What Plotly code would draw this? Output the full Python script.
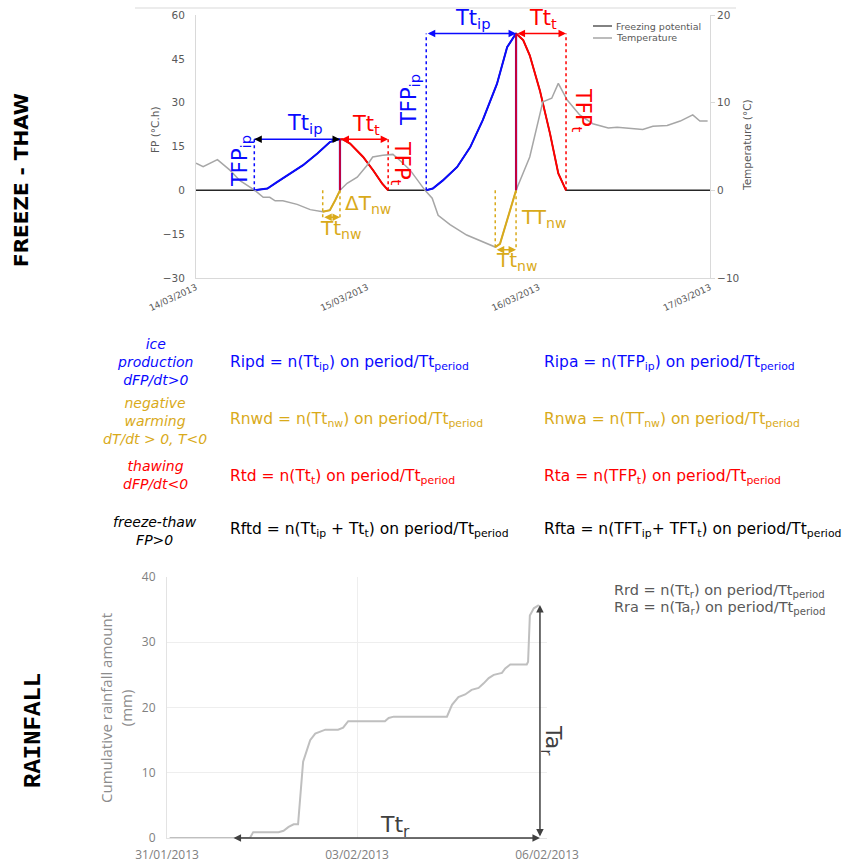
import plotly.graph_objects as go

W, H = 848, 868

# ---------------- Top chart data (freeze-thaw) ----------------
temp_t = ["2013-03-14 00:00", "2013-03-14 01:00", "2013-03-14 03:00", "2013-03-14 04:45", "2013-03-14 06:10",
          "2013-03-14 07:35", "2013-03-14 08:15", "2013-03-14 09:25", "2013-03-14 10:20", "2013-03-14 11:05",
          "2013-03-14 12:10", "2013-03-14 14:10", "2013-03-14 16:00", "2013-03-14 17:45", "2013-03-14 18:45",
          "2013-03-14 19:30", "2013-03-14 20:10", "2013-03-14 21:10", "2013-03-14 22:35", "2013-03-14 23:55",
          "2013-03-15 00:45", "2013-03-15 02:10", "2013-03-15 03:35", "2013-03-15 04:35", "2013-03-15 06:00",
          "2013-03-15 08:05", "2013-03-15 09:05", "2013-03-15 09:55", "2013-03-15 11:35", "2013-03-15 13:55",
          "2013-03-15 16:55", "2013-03-15 17:55", "2013-03-15 18:35", "2013-03-15 20:50", "2013-03-15 22:45",
          "2013-03-16 00:35", "2013-03-16 01:50", "2013-03-16 02:45", "2013-03-16 04:00", "2013-03-16 05:45",
          "2013-03-16 07:35", "2013-03-16 09:45", "2013-03-16 11:00", "2013-03-16 14:35", "2013-03-16 16:00",
          "2013-03-16 18:00", "2013-03-16 19:50", "2013-03-16 21:35", "2013-03-16 22:35", "2013-03-16 23:40"]
temp_v = [3.1, 2.7, 3.5, 2.3, 1.1, 0.3, 0.0, -0.8, -0.8, -1.2,
          -1.2, -1.6, -2.2, -2.45, -2.27, -1.13, 0.0, 0.8, 1.5, 2.8,
          3.8, 4.0, 4.1, 3.4, 2.3, 0.0, -0.9, -2.85, -3.9, -5.1,
          -6.1, -6.47, -6.1, 0.0, 3.8, 10.1, 10.5, 12.2, 10.3, 8.6,
          7.6, 7.1, 7.2, 6.95, 7.3, 7.4, 7.9, 8.6, 7.9, 7.9]

# ice production (dFP/dt > 0)
ip1_t = ["2013-03-14 08:10", "2013-03-14 10:00", "2013-03-14 11:20", "2013-03-14 13:10", "2013-03-14 15:00",
         "2013-03-14 17:00", "2013-03-14 18:45", "2013-03-14 19:45", "2013-03-14 20:10"]
ip1_v = [0, 0.6, 2.8, 5.7, 8.6, 12.6, 16.5, 17.3, 17.5]
ip2_t = ["2013-03-15 08:15", "2013-03-15 09:10", "2013-03-15 10:35", "2013-03-15 12:35", "2013-03-15 14:25",
         "2013-03-15 16:10", "2013-03-15 18:10", "2013-03-15 19:35", "2013-03-15 20:50"]
ip2_v = [0, 0.6, 3.4, 8.0, 14.8, 24.0, 36.5, 49.0, 53.7]

# thawing (dFP/dt < 0)
th1_t = ["2013-03-14 20:10", "2013-03-14 20:30", "2013-03-14 21:35", "2013-03-14 23:25", "2013-03-15 00:50",
         "2013-03-15 02:05", "2013-03-15 02:55"]
th1_v = [17.5, 17.5, 16.0, 11.4, 6.8, 2.3, 0]
th2_t = ["2013-03-15 20:50", "2013-03-15 21:50", "2013-03-15 22:45", "2013-03-16 00:10", "2013-03-16 01:35",
         "2013-03-16 02:45", "2013-03-16 03:50"]
th2_v = [53.7, 51.4, 46.2, 34.2, 19.5, 5.8, 0]

# negative warming (dT/dt > 0, T < 0), temperature in degC
nw1_t = ["2013-03-14 17:45", "2013-03-14 18:45", "2013-03-14 19:30", "2013-03-14 20:10"]
nw1_v = [-2.45, -2.27, -1.13, 0.0]
nw2_t = ["2013-03-15 17:55", "2013-03-15 18:35", "2013-03-15 20:50"]
nw2_v = [-6.47, -6.1, 0.0]
nw_arrow_level = [-3.07, -6.77]

fp_start, fp_end = "2013-03-14 00:00", "2013-03-17 00:00"

# ---------------- Bottom chart data (rainfall) ----------------
rain_t = ["2013-01-31 01:00", "2013-02-01 07:25", "2013-02-01 08:40", "2013-02-01 18:15", "2013-02-01 20:10",
          "2013-02-01 22:05", "2013-02-02 00:00", "2013-02-02 01:40", "2013-02-02 03:35", "2013-02-02 06:15",
          "2013-02-02 08:10", "2013-02-02 10:05", "2013-02-02 12:00", "2013-02-02 16:50", "2013-02-02 18:45",
          "2013-02-02 20:40", "2013-02-03 10:35", "2013-02-03 12:00", "2013-02-03 13:55", "2013-02-04 10:05",
          "2013-02-04 12:00", "2013-02-04 14:25", "2013-02-04 17:00", "2013-02-04 19:25", "2013-02-04 22:05",
          "2013-02-05 00:00", "2013-02-05 01:55", "2013-02-05 03:50", "2013-02-05 06:55", "2013-02-05 08:10",
          "2013-02-05 10:05", "2013-02-05 16:20", "2013-02-05 16:50", "2013-02-05 17:30", "2013-02-05 19:00",
          "2013-02-05 20:55"]
rain_v = [0, 0, 0.9, 0.9, 1.1, 1.7, 2.1, 2.1, 11.7, 15.0,
          16.0, 16.3, 16.6, 16.6, 16.9, 17.9, 17.9, 18.4, 18.6, 18.6,
          20.4, 21.6, 22.0, 22.7, 23.0, 23.7, 24.5, 25.0, 25.3, 26.0,
          26.6, 26.6, 27.0, 34.1, 35.2, 35.7]
rain_period = ["2013-02-01 00:40", "2013-02-05 21:20"]

BLUE = "#0a0aff"
RED = "#ff0000"
GOLD = "#d9aa1a"
FONT = "DejaVu Sans"


def px(x):
    return x / W


def py(y):
    return 1 - y / H


fig = go.Figure()

# temperature (secondary axis)
fig.add_trace(go.Scatter(x=temp_t, y=temp_v, mode="lines", name="Temperature",
                         line=dict(color="#a6a6a6", width=1.5), xaxis="x", yaxis="y2", showlegend=False))
# freezing potential full series
fp_t = [fp_start] + ip1_t + th1_t[1:] + ip2_t + th2_t[1:] + [fp_end]
fp_v = [0] + ip1_v + th1_v[1:] + ip2_v + th2_v[1:] + [0]
fig.add_trace(go.Scatter(x=fp_t, y=fp_v, mode="lines", name="Freezing potential",
                         line=dict(color="#262626", width=1.5), xaxis="x", yaxis="y", showlegend=False))
for tt, vv, col in [(ip1_t, ip1_v, BLUE), (th1_t, th1_v, RED), (ip2_t, ip2_v, BLUE), (th2_t, th2_v, RED)]:
    fig.add_trace(go.Scatter(x=tt, y=vv, mode="lines", line=dict(color=col, width=2),
                             xaxis="x", yaxis="y", showlegend=False))
for tt, vv in [(nw1_t, nw1_v), (nw2_t, nw2_v)]:
    fig.add_trace(go.Scatter(x=tt, y=vv, mode="lines", line=dict(color=GOLD, width=2),
                             xaxis="x", yaxis="y2", showlegend=False))

# rainfall
fig.add_trace(go.Scatter(x=rain_t, y=rain_v, mode="lines", line=dict(color="#bfbfbf", width=2),
                         xaxis="x3", yaxis="y3", showlegend=False))

shapes = []
annotations = []


def vline(x, y0, y1, color, dash, yref="y", width=1.5):
    shapes.append(dict(type="line", xref="x", yref=yref, x0=x, x1=x, y0=y0, y1=y1,
                       line=dict(color=color, width=width, dash=dash)))


def darrow(x0, x1, y, color, xref="x", yref="y", width=1.5):
    annotations.append(dict(x=x1, y=y, ax=x0, ay=y, xref=xref, yref=yref, axref=xref, ayref=yref,
                            text="", showarrow=True, arrowhead=2, startarrowhead=2, arrowside="end+start",
                            arrowsize=1, arrowwidth=width, arrowcolor=color))


def label(x, y, text, color, size=21, angle=0, xanchor="center", family=FONT):
    annotations.append(dict(x=px(x), y=py(y), xref="paper", yref="paper", text=text, showarrow=False,
                            textangle=angle, xanchor=xanchor, yanchor="middle",
                            font=dict(family=family, size=size, color=color)))


# event guides
for ip_t, ip_v, th_t, nw_t, lvl in [(ip1_t, ip1_v, th1_t, nw1_t, nw_arrow_level[0]),
                                    (ip2_t, ip2_v, th2_t, nw2_t, nw_arrow_level[1])]:
    peak = ip_v[-1]
    vline(ip_t[0], 0, peak, BLUE, "dot")
    vline(th_t[-1], 0, peak, RED, "dot")
    vline(ip_t[-1], 0, peak, BLUE, "solid", width=2.2)
    vline(ip_t[-1], 0, peak, RED, "solid", width=1.5)
    vline(nw_t[0], 0, lvl, GOLD, "dot", yref="y2")
    vline(nw_t[-1], 0, lvl, GOLD, "dot", yref="y2")
    darrow(th_t[0], th_t[-1], peak, RED)
    darrow(nw_t[0], nw_t[-1], lvl, GOLD, yref="y2")

# first ice-production arrow: blue shaft, black heads
shapes.append(dict(type="line", xref="x", yref="y", x0=ip1_t[0], x1=ip1_t[-1], y0=ip1_v[-1], y1=ip1_v[-1],
                   line=dict(color=BLUE, width=1.5)))
for xh, axp in [(ip1_t[0], 7), (ip1_t[-1], -7)]:
    annotations.append(dict(x=xh, y=ip1_v[-1], xref="x", yref="y", ax=axp, ay=0, text="", showarrow=True,
                            arrowhead=2, arrowsize=1, arrowwidth=1.5, arrowcolor="#000000"))
darrow(ip2_t[0], ip2_t[-1], ip2_v[-1], BLUE)

# rainfall arrows
darrow(rain_period[0], rain_period[1], 0, "#404040", xref="x3", yref="y3")
annotations.append(dict(x=rain_period[1], y=rain_v[-1], ax=rain_period[1], ay=0, xref="x3", yref="y3",
                        axref="x3", ayref="y3", text="", showarrow=True, arrowhead=2, startarrowhead=2,
                        arrowside="end+start", arrowsize=1, arrowwidth=1.5, arrowcolor="#404040"))

# top chart text labels
label(241, 161, "TFP<sub>ip</sub>", BLUE, angle=-90)
label(304, 124, "Tt<sub>ip</sub>", BLUE)
label(366, 125, "Tt<sub>t</sub>", RED)
label(401, 163, "TFP<sub>t</sub>", RED, angle=90)
label(343, 204, "ΔT<sub>nw</sub>", GOLD, size=20, xanchor="left")
label(340, 229, "Tt<sub>nw</sub>", GOLD, size=20)
label(410, 100, "TFP<sub>ip</sub>", BLUE, angle=-90)
label(473, 19, "Tt<sub>ip</sub>", BLUE)
label(543, 19, "Tt<sub>t</sub>", RED)
label(582, 110, "TFP<sub>t</sub>", RED, angle=90)
label(543, 218, "TT<sub>nw</sub>", GOLD, size=20)
label(516, 261, "Tt<sub>nw</sub>", GOLD, size=20)

# axis titles top
label(155, 130, "FP (°C.h)", "#595959", size=10.5, angle=-90)
label(747, 145, "Temperature (°C)", "#595959", size=10.5, angle=-90)

# manual legend
for yy, col, txt in [(26, "#595959", "Freezing potential"), (38, "#a6a6a6", "Temperature")]:
    shapes.append(dict(type="line", xref="paper", yref="paper", x0=px(593), x1=px(612), y0=py(yy), y1=py(yy),
                       line=dict(color=col, width=1.5)))
    label(614, yy, txt, "#595959", size=9.5, xanchor="left")

# chart area top border
shapes.append(dict(type="line", xref="paper", yref="paper", x0=px(135), x1=px(736), y0=py(8), y1=py(8),
                   line=dict(color="#d9d9d9", width=1)))

# section labels
label(21, 180, "<b>FREEZE - THAW</b>", "#000000", size=20, angle=-90)
label(33, 731, "<b>RAINFALL</b>", "#000000", size=24, angle=-90, family="Liberation Mono")

# middle legend (left column)
label(155, 362, "<i>ice<br>production<br>dFP/dt&gt;0</i>", BLUE, size=14)
label(155, 421, "<i>negative<br>warming<br>dT/dt &gt; 0, T&lt;0</i>", GOLD, size=14)
label(155, 475, "<i>thawing<br>dFP/dt&lt;0</i>", RED, size=14)
label(155, 531, "<i>freeze-thaw<br>FP&gt;0</i>", "#000000", size=14)

# formulas
P = "on period/Tt<sub>period</sub>"
label(228, 363, "Ripd = n(Tt<sub>ip</sub>) " + P, BLUE, size=15.5, xanchor="left")
label(228, 420, "Rnwd = n(Tt<sub>nw</sub>) " + P, GOLD, size=15.5, xanchor="left")
label(228, 477, "Rtd = n(Tt<sub>t</sub>) " + P, RED, size=15.5, xanchor="left")
label(228, 530, "Rftd = n(Tt<sub>ip</sub> + Tt<sub>t</sub>) " + P, "#000000", size=15.5, xanchor="left")
label(542, 363, "Ripa = n(TFP<sub>ip</sub>) " + P, BLUE, size=15.5, xanchor="left")
label(542, 420, "Rnwa = n(TT<sub>nw</sub>) " + P, GOLD, size=15.5, xanchor="left")
label(542, 477, "Rta = n(TFP<sub>t</sub>) " + P, RED, size=15.5, xanchor="left")
label(542, 530, "Rfta = n(TFT<sub>ip</sub>+ TFT<sub>t</sub>) " + P, "#000000", size=15.5, xanchor="left")

# rainfall labels
label(612, 591, "Rrd = n(Tt<sub>r</sub>) " + P, "#595959", size=14.5, xanchor="left")
label(612, 608, "Rra = n(Ta<sub>r</sub>) " + P, "#595959", size=14.5, xanchor="left")
label(395, 826, "Tt<sub>r</sub>", "#404040", size=22)
label(552, 740, "Ta<sub>r</sub>", "#404040", size=22, angle=90)
label(116, 708, "Cumulative rainfall amount<br>(mm)", "#8c8c8c", size=15, angle=-90, family="Open Sans")

fig.update_layout(
    width=W, height=H, margin=dict(l=0, r=0, t=0, b=0, autoexpand=False),
    paper_bgcolor="white", plot_bgcolor="white", showlegend=False,
    font=dict(family=FONT, color="#595959"),
    xaxis=dict(domain=[px(196), px(710)], anchor="y", type="date", range=[fp_start, fp_end], automargin=False,
               dtick=86400000, tickformat="%d/%m/%Y", tickangle=-25, showgrid=False, zeroline=False,
               showline=True, linecolor="#d9d9d9", linewidth=1, ticks="",
               tickfont=dict(size=9, color="#595959")),
    yaxis=dict(domain=[py(278), py(15)], anchor="x", range=[-30, 60], dtick=15, showgrid=False,
               automargin=False,
               zeroline=False, showline=True, linecolor="#d9d9d9", ticks="", ticklabelstandoff=8,
               tickfont=dict(size=10.5, color="#595959")),
    yaxis2=dict(overlaying="y", side="right", anchor="x", range=[-10, 20], dtick=10, showgrid=False,
                automargin=False,
                zeroline=False, showline=True, linecolor="#d9d9d9", ticks="outside", ticklen=4,
                tickcolor="#d9d9d9", tickfont=dict(size=10.5, color="#595959")),
    xaxis3=dict(domain=[px(167), px(547)], anchor="y3", type="date", range=["2013-01-31", "2013-02-06"],
                automargin=False,
                dtick=3 * 86400000, tickformat="%d/%m/%Y", tickangle=0, showgrid=True, gridcolor="#eeeeee",
                zeroline=False, showline=True, linecolor="#e3e3e3", ticks="", ticklabelstandoff=6,
                tickfont=dict(family="Open Sans", size=12, color="#808080")),
    yaxis3=dict(domain=[py(838), py(577)], anchor="x3", range=[0, 40], dtick=10, showgrid=True,
                automargin=False,
                gridcolor="#eeeeee", zeroline=False, showline=True, linecolor="#e3e3e3", ticks="",
                ticklabelstandoff=8, tickfont=dict(family="Open Sans", size=12, color="#808080")),
    shapes=shapes, annotations=annotations,
)

fig.write_html("out.html", config={"displayModeBar": False},
               post_script="document.body.style.margin='0px';document.body.style.overflow='hidden';")
